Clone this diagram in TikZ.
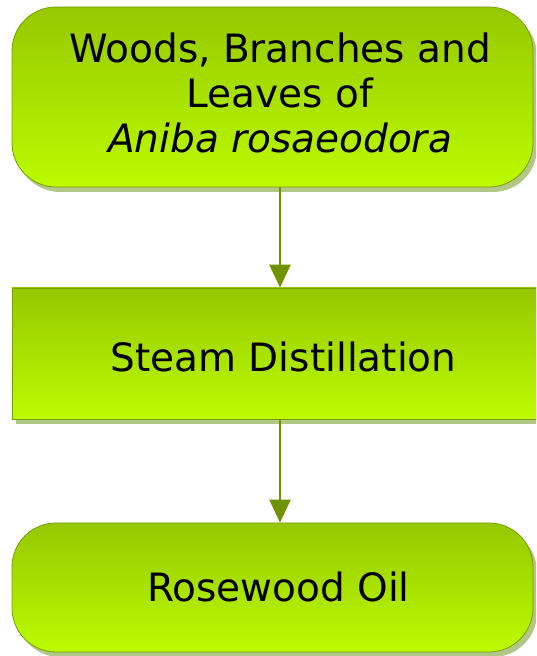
\documentclass[tikz,border=0pt]{standalone}
\usepackage{fontspec}
\setmainfont{DejaVu Sans}
\usepackage{tikz}
\usetikzlibrary{arrows.meta, shadows}

\definecolor{leaftop}{RGB}{150,200,0}
\definecolor{leafbot}{RGB}{188,251,0}
\definecolor{leafedge}{RGB}{118,158,0}
\definecolor{leafshadow}{RGB}{178,198,135}
\definecolor{stemgreen}{RGB}{112,146,0}

\begin{document}
\begin{tikzpicture}[x=1pt, y=1pt,
    stage/.style={draw=leafedge, line width=0.8pt, inner sep=0pt, top color=leaftop, bottom color=leafbot,
        drop shadow={shadow xshift=4pt, shadow yshift=-5pt, fill=leafshadow, opacity=1}},
    oval/.style={stage, rounded corners=44pt},
    lbl/.style={font=\fontsize{39}{45}\selectfont, align=center, inner sep=0pt},
    flow/.style={draw=stemgreen, line width=2.8pt, -{Triangle[length=23pt, width=21pt]}}]
    \useasboundingbox (0,0) rectangle (536,656);
    \clip (0,0) rectangle (536,656);

    % boxes
    \node[oval, minimum width=521pt, minimum height=180pt] (wood) at (272.5,559) {};
    \node[stage, minimum width=538pt, minimum height=131pt] (steam) at (281,302.5) {};
    \node[oval, minimum width=521pt, minimum height=129pt] (oil) at (272.5,68.5) {};

    % texts
    \node[lbl] (woodtxt) at (280,563) {Woods, Branches and\\Leaves of\\\itshape Aniba rosaeodora};
    \node[lbl] (steamtxt) at (283.5,299) {Steam Distillation};
    \node[lbl] (oiltxt) at (278.5,69) {Rosewood Oil};

    % arrows
    \draw[flow] (wood.south -| woodtxt) -- (steam.north -| woodtxt);
    \draw[flow] (steam.south -| woodtxt) -- (oil.north -| woodtxt);
\end{tikzpicture}
\end{document}
